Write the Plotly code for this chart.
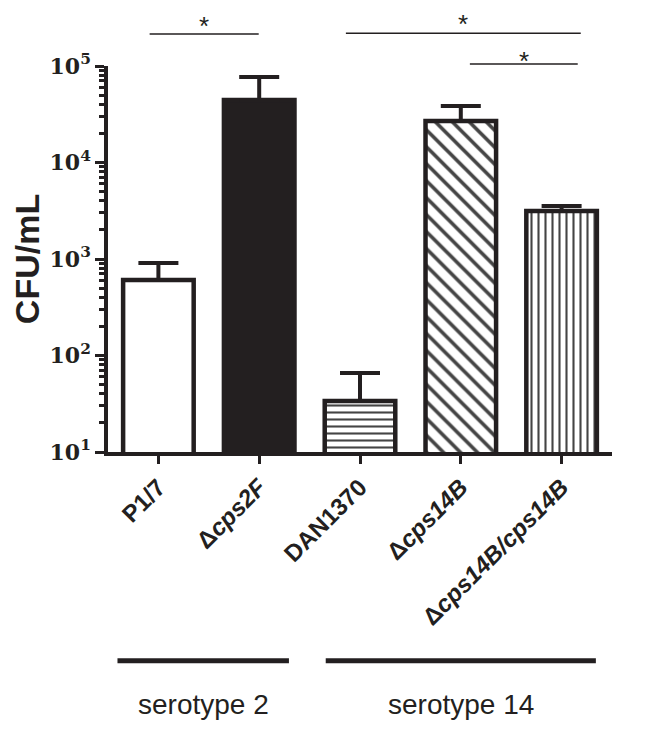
import plotly.graph_objects as go

strains = ["P1/7", "Δ<i>cps2F</i>", "DAN1370", "Δ<i>cps14B</i>", "Δ<i>cps14B/cps14B</i>"]
cfu = [606, 44500, 33.7, 26900, 3140]
cfu_err = [304, 32400, 32.3, 11500, 400]
patterns = ["", "", "-", "\\", "|"]
fills = ["white", "#231f20", "white", "white", "white"]
pattern_sizes = [8, 8, 7, 12, 7]

ink = "#231f20"

fig = go.Figure()
fig.add_trace(go.Bar(
    x=list(range(len(strains))),
    y=cfu,
    width=0.7,
    marker=dict(
        color=fills,
        line=dict(color=ink, width=4.5),
        pattern=dict(shape=patterns, fgcolor=ink, bgcolor="white", fgopacity=1,
                     size=pattern_sizes, solidity=0.3, fillmode="overlay"),
    ),
    error_y=dict(type="data", array=cfu_err, arrayminus=[0] * len(cfu),
                 symmetric=False, color=ink, thickness=4, width=20),
    showlegend=False,
))

# page body has an 8px margin, so the figure is shrunk by that much
fig.update_layout(
    width=652, height=725,
    margin=dict(l=89, r=48, t=58, b=281),
    plot_bgcolor="white", paper_bgcolor="white",
    bargap=0.3,
)

fig.update_xaxes(
    range=[-0.5, 4.5],
    tickmode="array", tickvals=list(range(len(strains))),
    ticktext=["<b>" + s + "</b>" for s in strains],
    tickangle=-45,
    tickfont=dict(family="Liberation Sans, Arial", size=24, color=ink),
    showline=True, linecolor=ink, linewidth=3.5,
    ticks="outside", ticklen=8, tickwidth=2.5, tickcolor=ink,
    showgrid=False, zeroline=False,
)

decades = [1, 2, 3, 4, 5]
fig.update_yaxes(
    type="log", range=[1, 5],
    tickmode="array", tickvals=[10 ** d for d in decades],
    ticktext=["<b>10<sup>%d</sup></b>" % d for d in decades],
    tickfont=dict(family="DejaVu Serif", size=22, color=ink),
    showline=True, linecolor=ink, linewidth=3.5,
    ticks="outside", ticklen=9, tickwidth=2.5, tickcolor=ink,
    minor=dict(ticks="outside", ticklen=5, tickwidth=2.5, tickcolor=ink, dtick="D1", showgrid=False),
    showgrid=False, zeroline=False,
    title=dict(text="<b>CFU/mL</b>", font=dict(family="Liberation Sans, Arial", size=34, color=ink), standoff=6),
)

# significance brackets
brackets = [(-0.087, 0.995, 1.083, 1.104), (1.86, 4.19, 1.085, 1.108), (3.09, 4.16, 1.005, 1.014)]
for x0, x1, yl, ys in brackets:
    fig.add_shape(type="line", xref="x", yref="paper", x0=x0, x1=x1, y0=yl, y1=yl,
                  line=dict(color=ink, width=1.5))
    fig.add_annotation(text="*", xref="x", yref="paper", x=(x0 + x1) / 2, y=ys,
                       showarrow=False, font=dict(family="Liberation Sans", size=26, color=ink),
                       yanchor="middle")

# serotype groups
groups = [("serotype 2", -0.406, 1.295), ("serotype 14", 1.66, 4.34)]
for label, x0, x1 in groups:
    fig.add_shape(type="line", xref="x", yref="paper", x0=x0, x1=x1, y0=-0.541, y1=-0.541,
                  line=dict(color=ink, width=5))
    fig.add_annotation(text=label, xref="x", yref="paper", x=(x0 + x1) / 2, y=-0.655,
                       showarrow=False, yanchor="middle",
                       font=dict(family="Liberation Sans, Arial", size=28, color=ink))

fig.write_html("out.html")
